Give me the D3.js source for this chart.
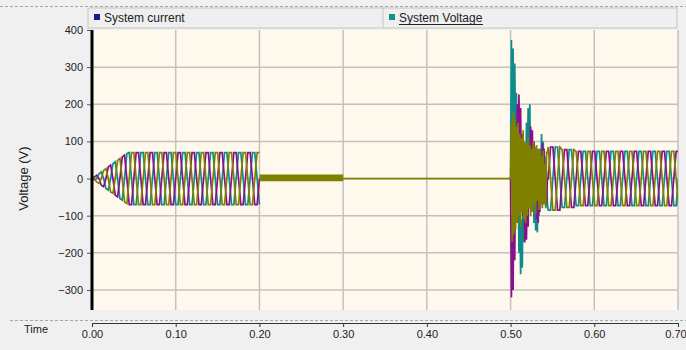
<!DOCTYPE html>
<html>
<head>
<meta charset="utf-8">
<script src="https://cdn.jsdelivr.net/npm/d3@7"></script>
<style>
    body { margin: 0; background: #f0f0f0; }
    svg { display: block; font-family: "Liberation Sans", Arial, sans-serif; }
</style>
</head>
<body>
<div id="chart"></div>
<script>
// ---- data ----
var legendNames = ["System current", "System Voltage"];
var legendColors = ["#1a1a8c", "#12908e"];
var phaseColors = { teal: "#0e8c8c", magenta: "#8b0f8b", olive: "#808000" };

var timeTicks = [0, 0.1, 0.2, 0.3, 0.4, 0.5, 0.6, 0.7];
var voltTicks = [-300, -200, -100, 0, 100, 200, 300, 400];

// energising 0.00 - 0.20 s, one sample every 1/360 s
var seg1Start = 0, seg1Step = 1 / 360;
var seg1Magenta = [
    0, 4, 9, 0, -18, -22,
    0, 31, 36, 0, -45, -49,
    0, 58, 63, 0, -70, -70,
    0, 70, 70, 0, -70, -70,
    0, 70, 70, 0, -70, -70,
    0, 70, 70, 0, -70, -70,
    0, 70, 70, 0, -70, -70,
    0, 70, 70, 0, -70, -70,
    0, 70, 70, 0, -70, -70,
    0, 70, 70, 0, -70, -70,
    0, 70, 70, 0, -70, -70,
    0, 70, 70, 0, -70, -70,
    0];
var seg1Teal = [
    0, -4, 0, 13, 18, 0,
    -27, -31, 0, 40, 45, 0,
    -54, -58, 0, 67, 70, 0,
    -70, -70, 0, 70, 70, 0,
    -70, -70, 0, 70, 70, 0,
    -70, -70, 0, 70, 70, 0,
    -70, -70, 0, 70, 70, 0,
    -70, -70, 0, 70, 70, 0,
    -70, -70, 0, 70, 70, 0,
    -70, -70, 0, 70, 70, 0,
    -70, -70, 0, 70, 70, 0,
    -70, -70, 0, 70, 70, 0,
    -70];
var seg1Olive = [
    0, 0, -9, -13, 0, 22,
    27, 0, -36, -40, 0, 49,
    54, 0, -63, -67, 0, 70,
    70, 0, -70, -70, 0, 70,
    70, 0, -70, -70, 0, 70,
    70, 0, -70, -70, 0, 70,
    70, 0, -70, -70, 0, 70,
    70, 0, -70, -70, 0, 70,
    70, 0, -70, -70, 0, 70,
    70, 0, -70, -70, 0, 70,
    70, 0, -70, -70, 0, 70,
    70, 0, -70, -70, 0, 70,
    70];

// thick band 0.20 - 0.30 s and flat line to 0.50 s
var bandTimes = [0.2, 0.3];
var bandLow = [-7, -7];
var bandHigh = [11, 11];
var flatTimes = [0.2, 0.5];
var flatValues = [0, 0];

// fault transient 0.500 - 0.544 s, one sample every 1 ms
var transStart = 0.5, transStep = 0.001;
var transTeal = [
    0, 373, 150, 350, 90, 310, 120, 230, -80, 60,
    -200, -60, -258, -110, -240, -40, -170, 60, -60, 150,
    40, 190, 80, 200, 20, 130, -80, 40, -120, -30,
    -140, -40, -145, 10, -100, 80, -10, 120, 30, 100,
    -30, 60, -80, 20, -69];
var transMagenta = [
    0, -320, -100, -300, -40, -220, 80, -60, 200, 40,
    226, 60, 190, -20, 120, -100, 30, -172, -50, -165,
    -20, -130, 60, -40, 140, 30, 130, -10, 100, -60,
    40, -110, -20, -120, 10, -90, 60, -20, 95, 20,
    80, -30, 40, -70, 0];
var transOlive = [
    0, 150, -170, 177, -150, 160, -137, 140, -120, 150,
    -100, 120, -130, 110, -90, 130, -110, 100, -120, 90,
    -100, 110, -80, 90, -100, 80, -90, 100, -70, 85,
    -95, 90, -60, 80, -85, 75, -70, 60, -80, 75,
    -70, 40, -75, 70, 69];

// recovery 0.545 - 0.70 s, one sample every 1/360 s
var seg3Start = 0.545, seg3Step = 1 / 360;
var seg3Magenta = [
    0, 85, 85, 0, -85, -85,
    0, 78, 78, 0, -78, -78,
    0, 73, 73, 0, -73, -73,
    0, 73, 73, 0, -73, -73,
    0, 73, 73, 0, -73, -73,
    0, 73, 73, 0, -73, -73,
    0, 73, 73, 0, -73, -73,
    0, 73, 73, 0, -73, -73,
    0, 73, 73, 0, -73, -73,
    0, 73, 73];
var seg3Teal = [
    -85, -85, 0, 85, 85, 0,
    -78, -78, 0, 78, 78, 0,
    -73, -73, 0, 73, 73, 0,
    -73, -73, 0, 73, 73, 0,
    -73, -73, 0, 73, 73, 0,
    -73, -73, 0, 73, 73, 0,
    -73, -73, 0, 73, 73, 0,
    -73, -73, 0, 73, 73, 0,
    -73, -73, 0, 73, 73, 0,
    -73, -73, 0];
var seg3Olive = [
    85, 0, -85, -85, 0, 85,
    78, 0, -78, -78, 0, 78,
    73, 0, -73, -73, 0, 73,
    73, 0, -73, -73, 0, 73,
    73, 0, -73, -73, 0, 73,
    73, 0, -73, -73, 0, 73,
    73, 0, -73, -73, 0, 73,
    73, 0, -73, -73, 0, 73,
    73, 0, -73, -73, 0, 73,
    73, 0, -73];

(function() {
    var width = 686, height = 350;
    var plot = { left: 92, right: 678, top: 30, bottom: 310 };

    var xPositionScale = d3.scaleLinear()
        .domain([0, 0.7])
        .range([plot.left, plot.right]);

    var yPositionScale = d3.scaleLinear()
        .domain([-354, 400])
        .range([plot.bottom, plot.top]);

    var svg = d3.select("#chart")
        .append("svg")
        .attr("width", width)
        .attr("height", height);

    // top dashed border
    svg.append("line")
        .attr("x1", 0).attr("x2", width)
        .attr("y1", 6.5).attr("y2", 6.5)
        .attr("stroke", "#a8a8a8")
        .attr("stroke-dasharray", "3,2");

    // legend bar
    var legendLeft = 88, legendRight = 677, legendSplit = 383;
    svg.append("rect")
        .attr("x", legendLeft).attr("y", 8)
        .attr("width", legendRight - legendLeft).attr("height", 20)
        .attr("fill", "#efefef")
        .attr("stroke", "#c4c4c4");
    svg.append("line")
        .attr("x1", legendSplit).attr("x2", legendSplit)
        .attr("y1", 8).attr("y2", 28)
        .attr("stroke", "#c4c4c4");

    var legendX = [94, 389];
    var legend = svg.selectAll(".legend-item")
        .data(legendNames)
        .enter().append("g")
        .attr("class", "legend-item")
        .attr("transform", function(d, i) { return "translate(" + legendX[i] + ",0)"; });
    legend.append("rect")
        .attr("x", 0).attr("y", 14)
        .attr("width", 6).attr("height", 6)
        .attr("fill", function(d, i) { return legendColors[i]; });
    legend.append("text")
        .attr("x", 10).attr("y", 22)
        .attr("font-size", 12)
        .attr("fill", "#222")
        .text(function(d) { return d; });
    legend.filter(function(d, i) { return i === 1; })
        .append("line")
        .attr("x1", 10).attr("x2", 94)
        .attr("y1", 24.5).attr("y2", 24.5)
        .attr("stroke", "#222");

    // plot background
    svg.append("rect")
        .attr("x", plot.left).attr("y", plot.top)
        .attr("width", plot.right - plot.left)
        .attr("height", plot.bottom - plot.top)
        .attr("fill", "#fff9ed");

    svg.append("clipPath")
        .attr("id", "plot-clip")
        .append("rect")
        .attr("x", plot.left).attr("y", plot.top)
        .attr("width", plot.right - plot.left)
        .attr("height", plot.bottom - plot.top);

    // grid
    svg.selectAll(".grid-x")
        .data(timeTicks.slice(1))
        .enter().append("line")
        .attr("class", "grid-x")
        .attr("x1", function(d) { return xPositionScale(d); })
        .attr("x2", function(d) { return xPositionScale(d); })
        .attr("y1", plot.top).attr("y2", plot.bottom)
        .attr("stroke", "#c2c2c2")
        .attr("stroke-width", 1.5);

    svg.selectAll(".grid-y")
        .data(voltTicks.slice(0, -1))
        .enter().append("line")
        .attr("class", "grid-y")
        .attr("x1", plot.left).attr("x2", plot.right)
        .attr("y1", function(d) { return yPositionScale(d); })
        .attr("y2", function(d) { return yPositionScale(d); })
        .attr("stroke", "#c2c2c2")
        .attr("stroke-width", 1.5);

    // waveforms
    function toPoints(start, step, values) {
        return values.map(function(v, i) {
            return { t: start + i * step, v: v };
        });
    }

    var line = d3.line()
        .x(function(d) { return xPositionScale(d.t); })
        .y(function(d) { return yPositionScale(d.v); });

    var waves = svg.append("g").attr("clip-path", "url(#plot-clip)");

    var flatPoints = flatTimes.map(function(t, i) { return { t: t, v: flatValues[i] }; });

    var series = [
        { color: phaseColors.teal, pts: toPoints(seg1Start, seg1Step, seg1Teal) },
        { color: phaseColors.magenta, pts: toPoints(seg1Start, seg1Step, seg1Magenta) },
        { color: phaseColors.olive, pts: toPoints(seg1Start, seg1Step, seg1Olive) },
        { color: phaseColors.olive, pts: flatPoints },
        { color: phaseColors.teal, pts: toPoints(transStart, transStep, transTeal).concat(toPoints(seg3Start, seg3Step, seg3Teal)) },
        { color: phaseColors.magenta, pts: toPoints(transStart, transStep, transMagenta).concat(toPoints(seg3Start, seg3Step, seg3Magenta)) },
        { color: phaseColors.olive, pts: toPoints(transStart, transStep, transOlive).concat(toPoints(seg3Start, seg3Step, seg3Olive)) }
    ];

    waves.selectAll(".wave")
        .data(series)
        .enter().append("path")
        .attr("class", "wave")
        .attr("d", function(d) { return line(d.pts); })
        .attr("fill", "none")
        .attr("stroke", function(d) { return d.color; })
        .attr("stroke-width", 1.7);

    var area = d3.area()
        .x(function(d) { return xPositionScale(d.t); })
        .y0(function(d) { return yPositionScale(d.lo); })
        .y1(function(d) { return yPositionScale(d.hi); });

    waves.append("path")
        .datum(bandTimes.map(function(t, i) { return { t: t, lo: bandLow[i], hi: bandHigh[i] }; }))
        .attr("d", area)
        .attr("fill", phaseColors.olive);

    // left axis
    var yAxis = d3.axisLeft(yPositionScale)
        .tickValues(voltTicks)
        .tickSize(5)
        .tickPadding(4);
    var yAxisG = svg.append("g")
        .attr("class", "axis y-axis")
        .attr("transform", "translate(" + plot.left + ",0)")
        .call(yAxis);
    yAxisG.select(".domain").remove();
    yAxisG.selectAll("line").attr("stroke", "#555");
    yAxisG.selectAll("text")
        .attr("font-size", 11)
        .attr("font-family", "Liberation Sans, Arial, sans-serif")
        .attr("fill", "#222");

    svg.append("line")
        .attr("x1", plot.left).attr("x2", plot.left)
        .attr("y1", plot.top).attr("y2", plot.bottom)
        .attr("stroke", "#000")
        .attr("stroke-width", 3);

    svg.append("text")
        .attr("transform", "translate(23," + yPositionScale(0) + ") rotate(-90)")
        .attr("text-anchor", "middle")
        .attr("dy", "0.35em")
        .attr("font-size", 13)
        .attr("fill", "#222")
        .text("Voltage (V)");

    // bottom time axis
    svg.append("line")
        .attr("x1", 10).attr("x2", width)
        .attr("y1", 320.5).attr("y2", 320.5)
        .attr("stroke", "#a8a8a8")
        .attr("stroke-dasharray", "3,2");

    var xAxis = d3.axisBottom(xPositionScale)
        .tickValues(timeTicks)
        .tickFormat(d3.format(".2f"))
        .tickSizeInner(4)
        .tickSizeOuter(0)
        .tickPadding(3);
    var xAxisG = svg.append("g")
        .attr("class", "axis x-axis")
        .attr("transform", "translate(0,323)")
        .call(xAxis);
    xAxisG.selectAll("line, path").attr("stroke", "#333");
    xAxisG.selectAll("text")
        .attr("font-size", 11)
        .attr("font-family", "Liberation Sans, Arial, sans-serif")
        .attr("fill", "#222");
    // keep the last label inside the window
    xAxisG.selectAll(".tick:last-of-type text")
        .attr("text-anchor", "end")
        .attr("dx", "0.75em");

    svg.append("text")
        .attr("x", 24).attr("y", 333)
        .attr("font-size", 11)
        .attr("fill", "#222")
        .text("Time");
})();
</script>
</body>
</html>
